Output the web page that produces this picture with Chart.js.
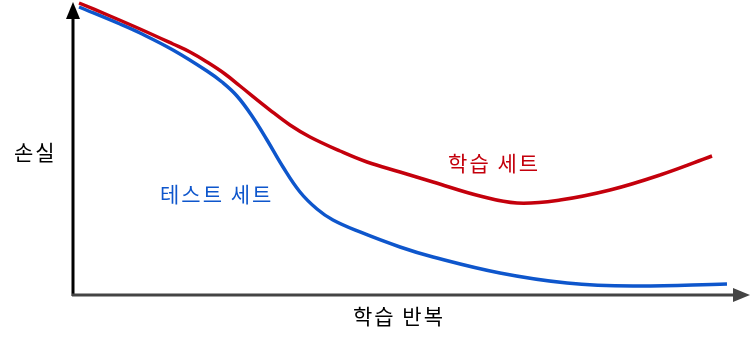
<!DOCTYPE html>
<html>
<head>
<meta charset="utf-8">
<script src="https://cdn.jsdelivr.net/npm/chart.js@4"></script>
<style>
  html, body { margin: 0; padding: 0; background: #fff; }
  #wrap { width: 750px; height: 342px; position: relative; }
</style>
</head>
<body>
<div id="wrap"><canvas id="lossChart"></canvas></div>
<script>
// iteration (0..100) and loss (0..100), relative units
const trainX = [0.89, 5.47, 9.90, 14.77, 17.28, 19.79, 22.45, 24.67, 29.10, 32.05, 35.01, 39.44, 43.43, 48.30, 53.18, 60.12, 65.58, 71.94, 79.32, 86.71, 94.39];
const trainLoss = [98.98, 94.58, 90.17, 85.08, 82.37, 78.98, 74.92, 70.85, 62.71, 57.63, 53.56, 48.81, 45.08, 41.69, 38.31, 33.56, 31.19, 32.20, 35.59, 40.68, 47.12];
const testX = [0.89, 6.94, 9.90, 14.77, 19.79, 22.01, 24.22, 26.44, 28.66, 31.02, 33.53, 36.04, 38.40, 42.39, 48.30, 53.18, 63.07, 72.97, 82.72, 96.60];
const testLoss = [97.63, 91.86, 88.81, 83.05, 75.93, 72.20, 67.46, 60.68, 52.54, 43.39, 34.92, 29.15, 25.42, 21.36, 16.27, 12.88, 7.46, 4.07, 3.05, 3.73];

const axisTitleX = '학습 반복';
const axisTitleY = '손실';
const trainLabel = '학습 세트';
const testLabel = '테스트 세트';

const RED = '#c4000c';
const BLUE = '#0e56cc';
const FONT = '"Noto Sans CJK KR", "Noto Sans", sans-serif';

function toPoints(xs, ys) {
    return xs.map((x, i) => ({ x: x, y: ys[i] }));
}

// axes with arrowheads plus the free-floating labels
const arrowAxes = {
    id: 'arrowAxes',
    afterDatasetsDraw(chart) {
        const { ctx, chartArea: a, scales } = chart;
        const x0 = a.left, y0 = a.bottom;
        ctx.save();
        ctx.lineWidth = 3;

        // y axis
        ctx.strokeStyle = '#000';
        ctx.beginPath();
        ctx.moveTo(x0, y0 + 1);
        ctx.lineTo(x0, a.top + 16);
        ctx.stroke();
        ctx.fillStyle = '#000';
        ctx.beginPath();
        ctx.moveTo(x0, a.top + 2);
        ctx.lineTo(x0 - 7, a.top + 19);
        ctx.lineTo(x0 + 7, a.top + 19);
        ctx.closePath();
        ctx.fill();

        // x axis
        ctx.strokeStyle = '#444';
        ctx.beginPath();
        ctx.moveTo(x0 - 1, y0);
        ctx.lineTo(a.right - 14, y0);
        ctx.stroke();
        ctx.fillStyle = '#444';
        ctx.beginPath();
        ctx.moveTo(a.right, y0);
        ctx.lineTo(a.right - 17, y0 - 7);
        ctx.lineTo(a.right - 17, y0 + 7);
        ctx.closePath();
        ctx.fill();

        // labels
        ctx.textBaseline = 'middle';
        ctx.textAlign = 'left';
        ctx.font = '21px ' + FONT;
        ctx.letterSpacing = '2px';
        ctx.fillStyle = '#000';
        ctx.fillText(axisTitleY, 14, 152);
        ctx.fillText(axisTitleX, 353, 316);
        ctx.fillStyle = BLUE;
        ctx.fillText(testLabel, scales.x.getPixelForValue(12.85), scales.y.getPixelForValue(34.2));
        ctx.fillStyle = RED;
        ctx.fillText(trainLabel, scales.x.getPixelForValue(55.4), scales.y.getPixelForValue(44.7));
        ctx.restore();
    }
};

const ctx = document.getElementById('lossChart').getContext('2d');
new Chart(ctx, {
    type: 'line',
    data: {
        datasets: [{
            label: trainLabel,
            data: toPoints(trainX, trainLoss),
            borderColor: RED,
            borderWidth: 3.5,
            pointRadius: 0,
            tension: 0.4,
            fill: false
        }, {
            label: testLabel,
            data: toPoints(testX, testLoss),
            borderColor: BLUE,
            borderWidth: 3.5,
            pointRadius: 0,
            tension: 0.4,
            fill: false
        }]
    },
    options: {
        responsive: true,
        maintainAspectRatio: false,
        animation: false,
        clip: false,
        layout: { padding: { left: 73, right: 0, top: 0, bottom: 47 } },
        scales: {
            x: { type: 'linear', min: 0, max: 100, display: false },
            y: { min: 0, max: 100, display: false }
        },
        plugins: {
            legend: { display: false },
            tooltip: { enabled: false }
        }
    },
    plugins: [arrowAxes]
});
</script>
</body>
</html>
